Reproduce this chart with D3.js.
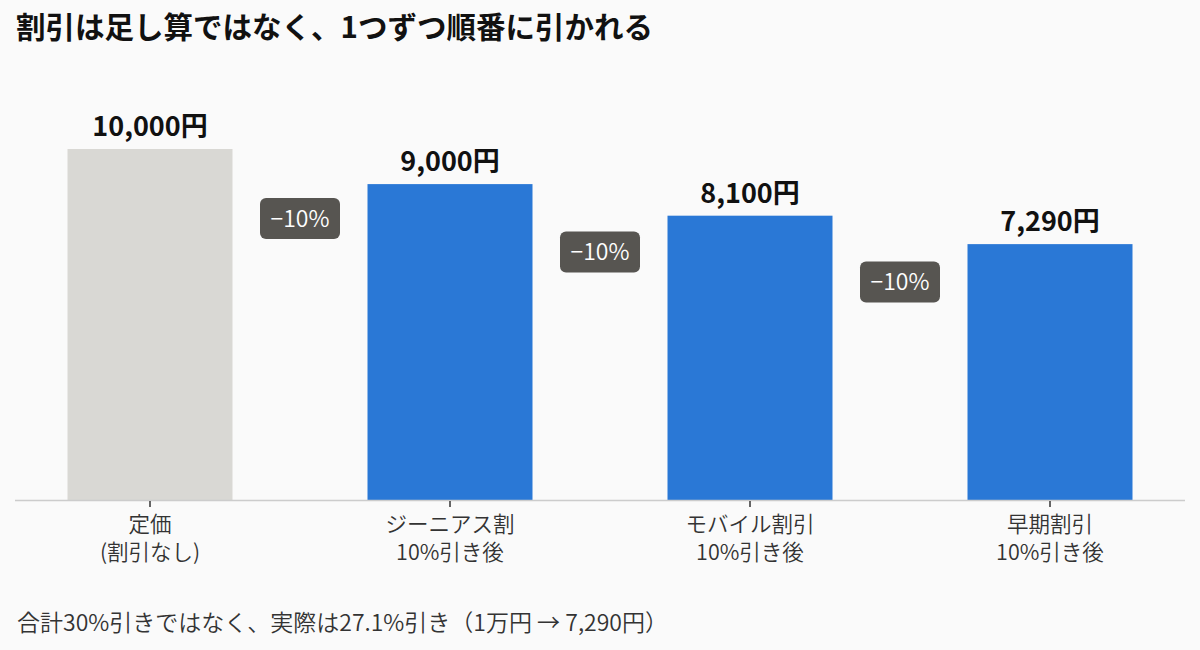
<!DOCTYPE html>
<html><head><meta charset="utf-8">
<script src="https://cdn.jsdelivr.net/npm/d3@7"></script>
<style>
html,body{margin:0;padding:0;background:#fafafa;}
svg{display:block;font-family:"Noto Sans CJK JP","Noto Sans",sans-serif;}
</style></head>
<body>
<svg id="chart" width="1200" height="650"></svg>
<script>
const title = "割引は足し算ではなく、1つずつ順番に引かれる";
const categories = ["定価\n(割引なし)", "ジーニアス割\n10%引き後", "モバイル割引\n10%引き後", "早期割引\n10%引き後"];
const values = [10000, 9000, 8100, 7290];
const valueLabels = ["10,000円", "9,000円", "8,100円", "7,290円"];
const stepLabels = ["−10%", "−10%", "−10%"];
const footnote = "合計30%引きではなく、実際は27.1%引き（1万円 → 7,290円）";

const svg = d3.select("#chart");
const x = d3.scaleBand().domain(categories).range([0, 1200]).paddingInner(0.45).paddingOuter(0.225);
const y = d3.scaleLinear().domain([0, 10000]).range([500, 149]);

svg.append("text").attr("x", 16).attr("y", 38)
  .attr("font-size", 29.5).attr("font-weight", 700).attr("fill", "#111").text(title);

svg.selectAll("rect.bar").data(values).join("rect").attr("class", "bar")
  .attr("x", (d, i) => x(categories[i])).attr("width", x.bandwidth())
  .attr("y", d => y(d)).attr("height", d => y(0) - y(d))
  .attr("fill", (d, i) => i === 0 ? "#d9d8d4" : "#2a78d6");

svg.selectAll("text.val").data(values).join("text").attr("class", "val")
  .attr("x", (d, i) => x(categories[i]) + x.bandwidth() / 2)
  .attr("y", d => y(d) - 13)
  .attr("text-anchor", "middle").attr("font-size", 27).attr("font-weight", 700).attr("fill", "#111")
  .text((d, i) => valueLabels[i]);

// axis
svg.append("line").attr("x1", 15).attr("x2", 1185).attr("y1", 500.5).attr("y2", 500.5)
  .attr("stroke", "#cccccc").attr("stroke-width", 1.5);
const axis = d3.axisBottom(x).tickSize(6).tickSizeOuter(0).tickFormat("");
const ag = svg.append("g").attr("transform", "translate(0,501)").call(axis);
ag.select(".domain").remove();
ag.selectAll(".tick line").attr("stroke", "#333").attr("stroke-width", 1.5);
categories.forEach(c => {
  const t = svg.append("text").attr("x", x(c) + x.bandwidth() / 2).attr("y", 532)
    .attr("text-anchor", "middle").attr("font-size", 21.5).attr("font-weight", 350).attr("fill", "#333");
  c.split("\n").forEach((ln, j) => t.append("tspan").attr("x", x(c) + x.bandwidth() / 2).attr("dy", j ? 28 : 0).text(ln));
});

// badges
stepLabels.forEach((s, i) => {
  const cx = (x(categories[i]) + x.bandwidth() + x(categories[i + 1])) / 2;
  const cy = (y(values[i]) + y(values[i + 1])) / 2 + 52;
  const g = svg.append("g");
  g.append("rect").attr("x", cx - 40).attr("y", cy - 20.5).attr("width", 80).attr("height", 41)
    .attr("rx", 6).attr("fill", "#575551");
  g.append("text").attr("x", cx).attr("y", cy + 8).attr("text-anchor", "middle")
    .attr("font-size", 23).attr("font-weight", 350).attr("fill", "#ffffff").text(s);
});

svg.append("text").attr("x", 17).attr("y", 631).attr("font-size", 23).attr("font-weight", 350).attr("fill", "#333").text(footnote);
</script>
</body></html>
